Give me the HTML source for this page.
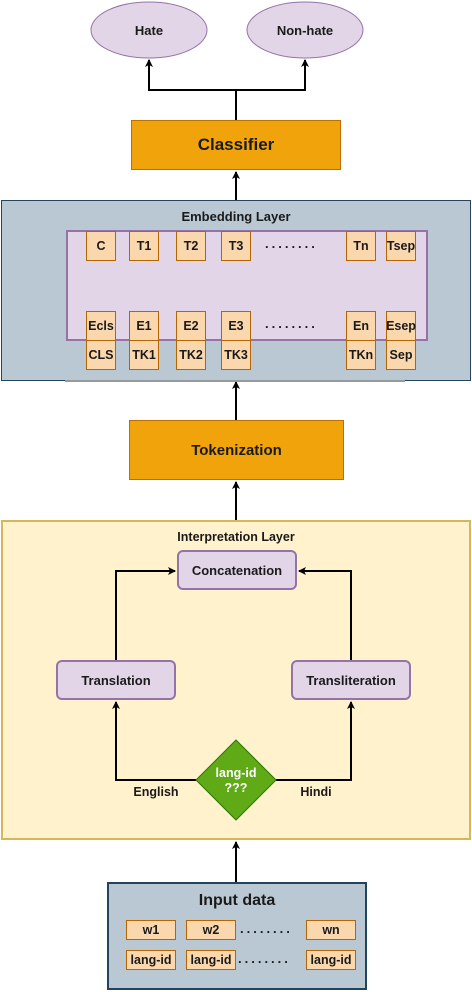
<!DOCTYPE html>
<html><head><style>
body{margin:0;width:472px;height:992px;position:relative;background:#fff;font-family:"Liberation Sans",sans-serif;font-weight:bold;color:#1a1a1a;overflow:hidden}
.a{position:absolute;box-sizing:border-box;display:flex;align-items:center;justify-content:center;text-align:center}
.o{background:#fad7ac;border:1px solid #b46504;font-size:12.5px}
.p{background:#e1d5e7;border:2px solid #9673a6;border-radius:6px;font-size:13px}
.dots{position:absolute;font-size:13px;letter-spacing:3px}
</style></head><body>
<svg width="472" height="992" style="position:absolute;left:0;top:0">
<defs><marker id="m" markerWidth="8" markerHeight="8" refX="7" refY="4" orient="auto" markerUnits="userSpaceOnUse"><path d="M0,0 L8,4 L0,8 L2,4z" fill="#000"/></marker></defs>
<ellipse cx="149" cy="30" rx="58" ry="28" fill="#e1d5e7" stroke="#9673a6"/>
<ellipse cx="305" cy="30" rx="58" ry="28" fill="#e1d5e7" stroke="#9673a6"/>
<g stroke="#000" stroke-width="2" fill="none">
<path d="M236 120 V90 H149 V60" marker-end="url(#m)"/>
<path d="M236 90 H305 V60" marker-end="url(#m)"/>
<path d="M236 200 V172" marker-end="url(#m)"/>
<path d="M236 420 V382" marker-end="url(#m)"/>
<path d="M236 520 V482" marker-end="url(#m)"/>
<path d="M236 882 V842" marker-end="url(#m)"/>
</g>
</svg>
<div class="a" style="left:131px;top:120px;width:210px;height:50px;background:#f0a30a;border:1px solid #bd7000;font-size:17px">Classifier</div>
<div class="a" style="left:91px;top:2px;width:116px;height:56px;font-size:13px">Hate</div>
<div class="a" style="left:247px;top:2px;width:116px;height:56px;font-size:13px">Non-hate</div>

<div class="a" style="left:1px;top:200px;width:470px;height:181px;background:#bac8d3;border:1px solid #23445d;align-items:flex-start;font-size:13px;padding-top:8px">Embedding Layer</div>
<div class="a" style="left:66px;top:230px;width:362px;height:111px;background:#e1d5e7;border:2px solid #9673a6"></div>
<div style="position:absolute;left:65px;top:380px;width:340px;height:2px;background:#999"></div>
<div class="a o" style="left:86px;top:231px;width:30px;height:30px">C</div>
<div class="a o" style="left:129px;top:231px;width:30px;height:30px">T1</div>
<div class="a o" style="left:176px;top:231px;width:30px;height:30px">T2</div>
<div class="a o" style="left:221px;top:231px;width:30px;height:30px">T3</div>
<div class="a o" style="left:346px;top:231px;width:30px;height:30px">Tn</div>
<div class="a o" style="left:386px;top:231px;width:30px;height:30px">Tsep</div>
<div class="dots" style="left:265px;top:236px">........</div>
<div class="a o" style="left:86px;top:311px;width:30px;height:30px">Ecls</div>
<div class="a o" style="left:129px;top:311px;width:30px;height:30px">E1</div>
<div class="a o" style="left:176px;top:311px;width:30px;height:30px">E2</div>
<div class="a o" style="left:221px;top:311px;width:30px;height:30px">E3</div>
<div class="a o" style="left:346px;top:311px;width:30px;height:30px">En</div>
<div class="a o" style="left:386px;top:311px;width:30px;height:30px">Esep</div>
<div class="dots" style="left:265px;top:316px">........</div>
<div class="a o" style="left:86px;top:340px;width:30px;height:30px">CLS</div>
<div class="a o" style="left:129px;top:340px;width:30px;height:30px">TK1</div>
<div class="a o" style="left:176px;top:340px;width:30px;height:30px">TK2</div>
<div class="a o" style="left:221px;top:340px;width:30px;height:30px">TK3</div>
<div class="a o" style="left:346px;top:340px;width:30px;height:30px">TKn</div>
<div class="a o" style="left:386px;top:340px;width:30px;height:30px">Sep</div>

<div class="a" style="left:129px;top:420px;width:215px;height:60px;background:#f0a30a;border:1px solid #bd7000;font-size:15px">Tokenization</div>

<div class="a" style="left:1px;top:520px;width:470px;height:320px;background:#fff2cc;border:2px solid #d6b656;align-items:flex-start;font-size:12.5px;padding-top:8px">Interpretation Layer</div>
<svg width="472" height="992" style="position:absolute;left:0;top:0">
<defs><marker id="m2" markerWidth="8" markerHeight="8" refX="7" refY="4" orient="auto" markerUnits="userSpaceOnUse"><path d="M0,0 L8,4 L0,8 L2,4z" fill="#000"/></marker></defs>
<g stroke="#000" stroke-width="2" fill="none">
<path d="M116 660 V571 H175" marker-end="url(#m2)"/>
<path d="M351 660 V571 H299" marker-end="url(#m2)"/>
<path d="M196 780 H116 V702" marker-end="url(#m2)"/>
<path d="M276 780 H351 V702" marker-end="url(#m2)"/>
</g>
<polygon points="236,740 276,780 236,820 196,780" fill="#60a917" stroke="#2d7600"/>
<text x="236" y="777" font-family="Liberation Sans" font-weight="bold" font-size="12.5" fill="#fff" text-anchor="middle">lang-id</text>
<text x="236" y="792" font-family="Liberation Sans" font-weight="bold" font-size="12.5" fill="#fff" text-anchor="middle">???</text>
<text x="156" y="796" font-family="Liberation Sans" font-weight="bold" font-size="12.5" fill="#1a1a1a" text-anchor="middle">English</text>
<text x="316" y="796" font-family="Liberation Sans" font-weight="bold" font-size="12.5" fill="#1a1a1a" text-anchor="middle">Hindi</text>
</svg>
<div class="a p" style="left:177px;top:550px;width:120px;height:40px">Concatenation</div>
<div class="a p" style="left:56px;top:660px;width:120px;height:40px">Translation</div>
<div class="a p" style="left:291px;top:660px;width:120px;height:40px">Transliteration</div>

<div class="a" style="left:107px;top:882px;width:260px;height:108px;background:#bac8d3;border:2px solid #23445d;align-items:flex-start;font-size:16px;padding-top:8px">Input data</div>
<div class="a o" style="left:126px;top:920px;width:50px;height:20px">w1</div>
<div class="a o" style="left:186px;top:920px;width:50px;height:20px">w2</div>
<div class="a o" style="left:306px;top:920px;width:50px;height:20px">wn</div>
<div class="dots" style="left:240px;top:921px">........</div>
<div class="a o" style="left:126px;top:950px;width:50px;height:20px">lang-id</div>
<div class="a o" style="left:186px;top:950px;width:50px;height:20px">lang-id</div>
<div class="a o" style="left:306px;top:950px;width:50px;height:20px">lang-id</div>
<div class="dots" style="left:238px;top:951px">........</div>
</body></html>
